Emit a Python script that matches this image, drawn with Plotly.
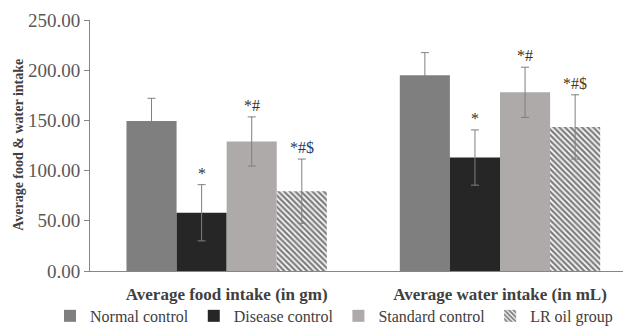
import plotly.graph_objects as go

# Intake parameters on the category axis
categories = ["Average food intake (in gm)", "Average water intake (in mL)"]

# Treatment groups
groups = ["Normal control", "Disease control", "Standard control", "LR oil group"]

# Mean intake per group (food, water)
normal_mean = [149.5, 195.0]
disease_mean = [58.0, 113.0]
standard_mean = [129.0, 178.0]
lr_oil_mean = [79.5, 143.5]

# Standard deviation per group (food, water)
normal_sd = [22.5, 22.5]
disease_sd = [28.0, 27.5]
standard_sd = [24.5, 25.0]
lr_oil_sd = [32.0, 32.0]

# Significance markers per group (food, water)
normal_sig = ["", ""]
disease_sig = ["*", "*"]
standard_sig = ["*#", "*#"]
lr_oil_sig = ["*#$", "*#$"]

means = [normal_mean, disease_mean, standard_mean, lr_oil_mean]
sds = [normal_sd, disease_sd, standard_sd, lr_oil_sd]
sigs = [normal_sig, disease_sig, standard_sig, lr_oil_sig]
colors = ["#7f7f7f", "#262626", "#aeaaaa", "#ffffff"]
sig_colors = [["#3a3226", "#3a3226"], ["#3a3226", "#3a3226"],
              ["#3a3226", "#3a3226"], ["#1f3864", "#4a3520"]]

SERIF = "Liberation Serif"

fig = go.Figure()
for i, name in enumerate(groups):
    marker = dict(color=colors[i], line=dict(width=0))
    if name == "LR oil group":
        marker["pattern"] = dict(shape="\\", fgcolor="#000000", bgcolor="#ffffff",
                                 size=4, solidity=0.6)
    fig.add_trace(go.Bar(
        name=name,
        x=categories,
        y=means[i],
        marker=marker,
        error_y=dict(type="data", array=sds[i], visible=True,
                     color="#7f7f7f", thickness=1, width=4),
        offsetgroup=str(i),
    ))

fig.update_layout(
    width=623, height=326,
    margin=dict(l=90, r=0, t=20, b=55, autoexpand=False),
    paper_bgcolor="white", plot_bgcolor="white",
    barmode="group", bargap=0.267, bargroupgap=0,
    font=dict(family=SERIF, color="#404040"),
    showlegend=True,
    legend=dict(orientation="h", x=-0.075, xanchor="left",
                y=-0.179, yanchor="middle",
                bgcolor="rgba(0,0,0,0)",
                font=dict(family=SERIF, size=16, color="#404040"),
                itemwidth=30, traceorder="normal"),
    xaxis=dict(type="category", range=[-0.5, 1.45], showline=True,
               linecolor="#868686", linewidth=1, ticks="", showgrid=False,
               tickfont=dict(family=SERIF, size=17, color="#404040", weight="bold"),
               ticklabelstandoff=8, automargin=False),
    yaxis=dict(range=[0, 250], tickvals=[0, 50, 100, 150, 200, 250],
               tickformat=".2f", showline=True, linecolor="#868686", linewidth=1,
               ticks="outside", ticklen=5, tickcolor="#868686", showgrid=False,
               zeroline=False, automargin=False,
               tickfont=dict(family=SERIF, size=19, color="#595959")),
)

# Y-axis title
fig.add_annotation(text="<b>Average food & water intake</b>", textangle=-90,
                   xref="paper", yref="paper", x=-0.133, y=0.503,
                   xanchor="center", yanchor="middle", showarrow=False,
                   font=dict(family=SERIF, size=14, color="#404040"))

# Significance markers above error bars
n = len(groups)
group_width = 1 - 0.267
bar_w = group_width / n
for i in range(n):
    for j, cat in enumerate(categories):
        if not sigs[i][j]:
            continue
        xpos = j - group_width / 2 + bar_w * (i + 0.5)
        fig.add_annotation(text=sigs[i][j], x=xpos, xref="x",
                           y=means[i][j] + sds[i][j], yref="y",
                           xanchor="center", yanchor="bottom", yshift=1,
                           showarrow=False,
                           font=dict(family=SERIF, size=16, color=sig_colors[i][j]))

fig.write_html("out.html")
